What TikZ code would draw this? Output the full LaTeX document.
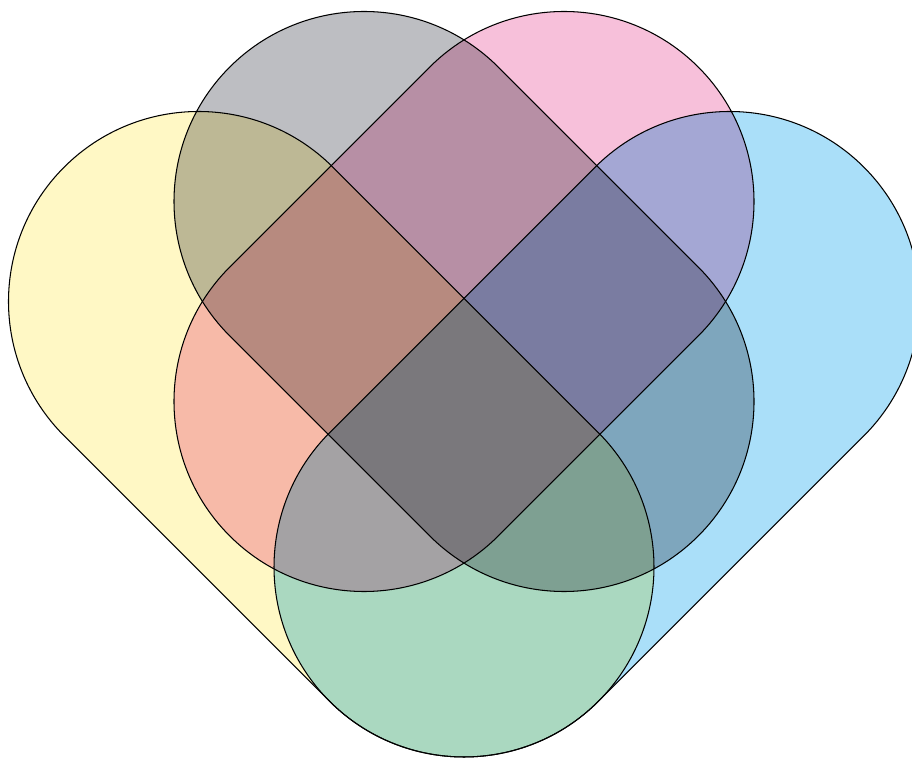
\documentclass[tikz,border=0pt]{standalone}
\definecolor{setyellow}{RGB}{255,248,197}
\definecolor{setgray}{RGB}{189,190,194}
\definecolor{setpink}{RGB}{247,192,218}
\definecolor{setcyan}{RGB}{170,223,249}
\tikzset{
  venn/.style={draw=black, line width=0.6pt},
}
% stadium: colour, x, y, angle, length
\newcommand{\stadium}[5]{%
  \begin{scope}[shift={(#2,#3)}, rotate=#4]
    \draw[venn, fill=#1] (0,3.8) -- (#5,3.8) arc[start angle=90, end angle=-90, radius=3.8]
      -- (0,-3.8) arc[start angle=270, end angle=90, radius=3.8] -- cycle;
  \end{scope}}
\begin{document}
\begin{tikzpicture}
 \useasboundingbox (0,0) rectangle (18.24,15.18);
 \begin{scope}[blend group=multiply]
  \stadium{setyellow}{3.97}{9.15}{-45}{7.509}
  \stadium{setcyan}{14.59}{9.15}{225}{7.509}
  \stadium{setgray}{7.28}{11.15}{-45}{5.657}
  \stadium{setpink}{11.28}{11.15}{225}{5.657}
 \end{scope}
\end{tikzpicture}
\end{document}
